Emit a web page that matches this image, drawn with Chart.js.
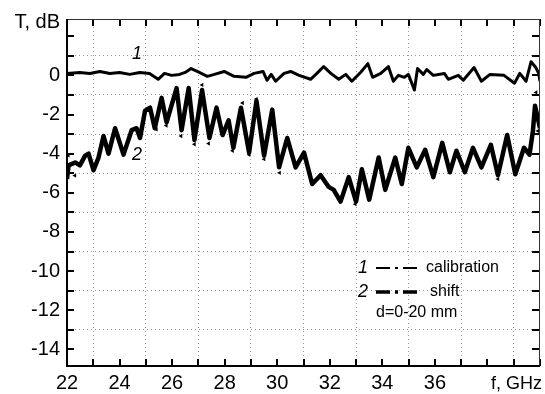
<!DOCTYPE html>
<html>
<head>
<meta charset="utf-8">
<script src="https://cdn.jsdelivr.net/npm/chart.js@4/dist/chart.umd.min.js"></script>
<style>
  html, body { margin: 0; padding: 0; background: #fff; }
</style>
</head>
<body>
<canvas id="chart" width="545" height="394"></canvas>
<script>
// ── Data ─────────────────────────────────────────────────────
// curve 1: calibration
const calF = [22.0, 22.49, 22.87, 23.25, 23.63, 24.0, 24.39, 24.77, 25.14, 25.47, 25.71, 25.98,
  26.28, 26.5, 26.72, 26.96, 27.34, 27.61, 27.98, 28.36, 28.81, 29.12, 29.46, 29.61, 29.77,
  29.94, 30.26, 30.51, 30.83, 31.27, 31.51, 31.77, 32.04, 32.34, 32.61, 32.84, 33.17, 33.45,
  33.63, 33.94, 34.23, 34.42, 34.61, 34.84, 34.99, 35.22, 35.34, 35.56, 35.69, 35.94, 36.36,
  36.51, 36.89, 37.08, 37.49, 37.77, 38.1, 38.63, 39.03, 39.23, 39.47, 39.66, 39.84, 39.95, 40.0];
const calT = [0.1, 0.15, 0.1, 0.2, 0.1, 0.15, 0.05, 0.15, 0.1, -0.2, 0.1, 0.0,
  0.05, 0.15, 0.35, 0.2, -0.05, 0.05, 0.2, -0.05, -0.1, 0.1, 0.2, -0.25, 0.05,
  -0.3, 0.1, 0.2, 0.0, -0.2, 0.1, 0.45, 0.1, -0.2, 0.05, -0.3, 0.15, 0.6,
  -0.1, 0.1, 0.45, -0.3, 0.0, -0.1, 0.05, -0.75, 0.35, 0.05, 0.3, 0.0, 0.1,
  -0.2, 0.0, -0.25, 0.4, -0.3, 0.05, 0.0, -0.4, 0.1, -0.3, 0.7, 0.4, 0.1, -0.3];

// curve 2: shift
const shiftF = [22.0, 22.06, 22.31, 22.49, 22.69, 22.82, 23.01, 23.2, 23.39, 23.58, 23.83, 24.15,
  24.46, 24.65, 24.78, 24.97, 25.16, 25.34, 25.6, 25.79, 26.17, 26.36, 26.63, 26.85, 27.14,
  27.42, 27.69, 27.92, 28.15, 28.33, 28.62, 28.93, 29.21, 29.5, 29.81, 30.07, 30.38, 30.7,
  31.02, 31.33, 31.65, 31.96, 32.15, 32.41, 32.72, 33.0, 33.22, 33.5, 33.86, 34.11, 34.49,
  34.74, 34.99, 35.31, 35.63, 35.94, 36.28, 36.57, 36.82, 37.14, 37.45, 37.77, 38.13, 38.4,
  38.75, 39.06, 39.39, 39.6, 39.73, 39.81, 39.92, 40.0];
const shiftT = [-5.3, -4.6, -4.45, -4.6, -4.1, -4.0, -4.85, -4.2, -3.1, -4.0, -2.7, -4.05,
  -2.8, -2.7, -3.2, -1.8, -1.65, -2.7, -1.15, -2.4, -0.65, -2.8, -0.65, -3.3, -0.75,
  -3.2, -1.65, -3.05, -2.3, -3.7, -1.65, -3.95, -1.3, -4.1, -1.75, -4.7, -3.2, -4.7,
  -3.95, -5.55, -5.1, -5.7, -5.85, -6.45, -5.2, -6.45, -4.8, -6.35, -4.2, -5.85, -4.2,
  -5.55, -3.7, -4.7, -3.8, -5.2, -3.45, -4.95, -3.85, -4.95, -3.7, -4.7, -3.55, -5.1,
  -3.05, -5.05, -3.7, -4.05, -2.85, -1.55, -2.2, -2.7];

// small triangle marks around curve 2
const markF = [22.05, 22.3, 25.4, 25.78, 26.34, 26.85, 27.14, 27.39, 28.3, 28.68, 28.93, 29.21,
  29.5, 30.09, 32.97, 38.4, 39.85, 39.92];
const markT = [-4.08, -5.12, -2.76, -2.56, -3.1, -3.52, -0.49, -3.48, -3.85, -1.41, -4.06, -1.21,
  -4.28, -4.98, -6.58, -5.3, -0.87, -2.84];

const xLabels = [22, 24, 26, 28, 30, 32, 34, 36];
const yLabels = [0, -2, -4, -6, -8, -10, -12, -14];

const pts = (xs, ys) => xs.map((x, i) => ({ x, y: ys[i] }));
const isOdd = v => Number.isInteger(v) && Math.abs(v % 2) === 1;
const intTicks = (a, b) => s => { s.ticks = []; for (let v = a; v <= b; v++) s.ticks.push({ value: v }); };
const FONT = '"Liberation Sans", Arial, sans-serif';

// ── Frame, inward ticks and annotations ──────────────────────
const decor = {
  id: 'decor',
  afterDraw(chart) {
    const { ctx, chartArea: a, scales: { x, y } } = chart;
    ctx.save();
    ctx.strokeStyle = '#000';

    // tick marks every unit, pointing inside
    ctx.lineWidth = 2;
    ctx.beginPath();
    for (let v = 22; v <= 40; v++) {
      const px = Math.round(x.getPixelForValue(v));
      ctx.moveTo(px, a.bottom); ctx.lineTo(px, a.bottom - 7);
      ctx.moveTo(px, a.top);    ctx.lineTo(px, a.top + 7);
    }
    for (let v = -14; v <= 2; v++) {
      const py = Math.round(y.getPixelForValue(v));
      ctx.moveTo(a.left, py);  ctx.lineTo(a.left + 7, py);
      ctx.moveTo(a.right, py); ctx.lineTo(a.right - 8, py);
    }
    ctx.stroke();

    // frame
    ctx.lineWidth = 1;
    ctx.strokeStyle = '#333';
    ctx.beginPath();
    ctx.moveTo(a.left, a.top + 0.5); ctx.lineTo(a.right, a.top + 0.5);
    ctx.moveTo(a.right - 0.5, a.top); ctx.lineTo(a.right - 0.5, a.bottom);
    ctx.stroke();
    ctx.lineWidth = 2;
    ctx.strokeStyle = '#000';
    ctx.beginPath();
    ctx.moveTo(a.left, a.top); ctx.lineTo(a.left, a.bottom);
    ctx.lineTo(a.right, a.bottom);
    ctx.stroke();

    // axis titles
    ctx.fillStyle = '#000';
    ctx.font = '20px ' + FONT;
    ctx.textBaseline = 'middle';
    ctx.textAlign = 'right';
    ctx.fillText('T, dB', 60, 22);
    ctx.textAlign = 'left';
    ctx.font = '18px ' + FONT;
    ctx.fillText('f, GHz', 491, 384);

    // curve numbers
    ctx.font = 'italic 18px ' + FONT;
    ctx.textAlign = 'center';
    ctx.fillText('1', 137, 54);
    ctx.fillText('2', 137, 155);

    // legend
    ctx.textAlign = 'left';
    ctx.fillText('1', 358, 268);
    ctx.fillText('2', 358, 292);
    ctx.setLineDash([14, 5, 3, 5]);
    ctx.lineWidth = 2;
    ctx.beginPath(); ctx.moveTo(376, 268); ctx.lineTo(418, 268); ctx.stroke();
    ctx.lineWidth = 3.5;
    ctx.beginPath(); ctx.moveTo(376, 292); ctx.lineTo(419, 292); ctx.stroke();
    ctx.setLineDash([]);
    ctx.font = '16px ' + FONT;
    ctx.fillText('calibration', 426, 268);
    ctx.fillText('shift', 430, 292);
    ctx.fillText('d=0-20 mm', 376, 313);
    ctx.restore();
  }
};

const gridOpts = {
  drawTicks: false, lineWidth: 1,
  color: c => isOdd(c.tick.value) ? '#9a9a9a' : 'transparent'
};

new Chart(document.getElementById('chart'), {
  type: 'scatter',
  data: {
    datasets: [
      { label: 'calibration', data: pts(calF, calT), showLine: true, borderColor: '#000',
        borderWidth: 3, borderJoinStyle: 'round', pointRadius: 0, tension: 0 },
      { label: 'shift', data: pts(shiftF, shiftT), showLine: true, borderColor: '#000',
        borderWidth: 4.5, borderJoinStyle: 'round', pointRadius: 0, tension: 0 },
      { label: 'marks', data: pts(markF, markT), showLine: false, pointStyle: 'triangle',
        rotation: -90, pointRadius: 2.5, backgroundColor: '#000', borderColor: '#000', borderWidth: 0 }
    ]
  },
  options: {
    responsive: false,
    animation: false,
    layout: { padding: { top: 15, right: 2, left: 0, bottom: 0 } },
    plugins: { legend: { display: false }, tooltip: { enabled: false } },
    scales: {
      x: {
        type: 'linear', min: 22, max: 40,
        afterFit: s => { s.height = 28; },
        afterBuildTicks: intTicks(22, 40),
        border: { display: false, dash: [1, 3] },
        grid: gridOpts,
        ticks: {
          autoSkip: false, maxRotation: 0, padding: 5,
          color: '#000', font: { family: FONT, size: 20 },
          callback: v => xLabels.includes(v) ? String(v) : ''
        }
      },
      y: {
        type: 'linear', min: -14.85, max: 2.88,
        afterFit: s => { s.width = 67; },
        afterBuildTicks: intTicks(-14, 2),
        border: { display: false, dash: [1, 3] },
        grid: gridOpts,
        ticks: {
          autoSkip: false, padding: 7,
          color: '#000', font: { family: FONT, size: 20 },
          callback: v => yLabels.includes(v) ? String(v) : ''
        }
      }
    }
  },
  plugins: [decor]
});
</script>
</body>
</html>
